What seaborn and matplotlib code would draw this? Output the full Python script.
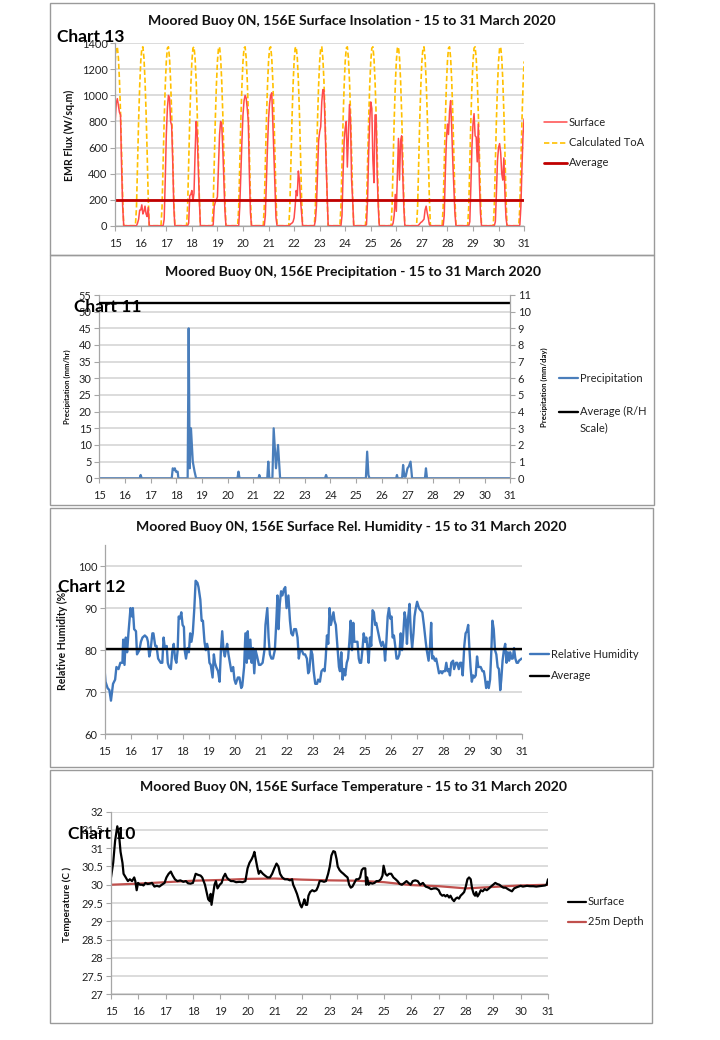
import numpy as np
import pandas as pd
import matplotlib
matplotlib.use("Agg")
import matplotlib.pyplot as plt
import seaborn as sns
from matplotlib.lines import Line2D
from matplotlib.patches import Rectangle
from matplotlib.ticker import FuncFormatter

# ---------------- DATA ----------------
days = list(range(15, 32))

# Hourly samples (hour 0 of 15 March to hour 0 of 31 March, UTC)
toa_flux = [
    1261,1363,1373,1288,1116,868,561,216,0,0,0,0,0,0,0,0,0,0,0,0,144,495,811,1072,  # 15
    1261,1363,1373,1288,1116,868,561,216,0,0,0,0,0,0,0,0,0,0,0,0,144,495,811,1072,  # 16
    1261,1363,1373,1288,1116,868,561,216,0,0,0,0,0,0,0,0,0,0,0,0,144,495,811,1072,  # 17
    1261,1363,1373,1288,1116,868,561,216,0,0,0,0,0,0,0,0,0,0,0,0,144,495,811,1072,  # 18
    1261,1363,1373,1288,1116,868,561,216,0,0,0,0,0,0,0,0,0,0,0,0,144,495,811,1072,  # 19
    1261,1363,1373,1288,1116,868,561,216,0,0,0,0,0,0,0,0,0,0,0,0,144,495,811,1072,  # 20
    1261,1363,1373,1288,1116,868,561,216,0,0,0,0,0,0,0,0,0,0,0,0,144,495,811,1072,  # 21
    1261,1363,1373,1288,1116,868,561,216,0,0,0,0,0,0,0,0,0,0,0,0,144,495,811,1072,  # 22
    1261,1363,1373,1288,1116,868,561,216,0,0,0,0,0,0,0,0,0,0,0,0,144,495,811,1072,  # 23
    1261,1363,1373,1288,1116,868,561,216,0,0,0,0,0,0,0,0,0,0,0,0,144,495,811,1072,  # 24
    1261,1363,1373,1288,1116,868,561,216,0,0,0,0,0,0,0,0,0,0,0,0,144,495,811,1072,  # 25
    1261,1363,1373,1288,1116,868,561,216,0,0,0,0,0,0,0,0,0,0,0,0,144,495,811,1072,  # 26
    1261,1363,1373,1288,1116,868,561,216,0,0,0,0,0,0,0,0,0,0,0,0,144,495,811,1072,  # 27
    1261,1363,1373,1288,1116,868,561,216,0,0,0,0,0,0,0,0,0,0,0,0,144,495,811,1072,  # 28
    1261,1363,1373,1288,1116,868,561,216,0,0,0,0,0,0,0,0,0,0,0,0,144,495,811,1072,  # 29
    1261,1363,1373,1288,1116,868,561,216,0,0,0,0,0,0,0,0,0,0,0,0,144,495,811,1072,  # 30
    1261,  # 31
]

surface_flux = [
    800,940,975,920,870,850,450,150,0,0,0,0,0,0,0,0,0,0,0,0,0,20,50,120,          # 15
    120,160,90,110,150,90,70,140,0,0,0,0,0,0,0,0,0,0,0,0,0,0,50,350,              # 16
    700,900,1000,980,800,770,500,150,0,0,0,0,0,0,0,0,0,0,0,0,0,20,230,240,        # 17
    270,190,250,550,800,700,450,200,0,0,0,0,0,0,0,0,0,0,0,0,5,150,180,200,        # 18
    220,450,700,800,780,600,350,120,0,0,0,0,0,0,0,0,0,0,0,0,0,150,400,650,        # 19
    850,960,1000,980,900,800,400,100,0,0,0,0,0,0,0,0,0,0,0,0,0,80,350,600,        # 20
    820,940,1000,1020,800,550,300,60,0,0,0,0,0,0,0,0,0,0,0,0,5,15,20,30,          # 21
    60,150,270,230,420,350,200,100,0,0,0,0,0,0,0,0,0,0,0,0,40,150,400,650,        # 22
    720,760,950,1045,1040,800,500,250,0,0,0,0,0,0,0,0,0,0,0,0,0,80,400,650,       # 23
    750,800,450,700,930,800,350,200,0,0,0,0,0,0,0,0,0,0,0,0,10,200,550,800,       # 24
    950,900,500,330,850,850,400,150,0,0,0,0,0,0,0,0,0,0,0,0,0,20,80,240,          # 25
    110,400,670,350,650,690,400,150,0,0,0,0,0,0,0,0,0,0,0,0,0,5,15,25,            # 26
    30,40,50,120,150,100,60,10,0,0,0,0,0,0,0,0,0,0,0,0,0,80,400,650,              # 27
    780,700,880,960,750,500,300,100,0,0,0,0,0,0,0,0,0,0,0,0,0,30,300,600,         # 28
    780,860,690,680,490,780,350,100,0,0,0,0,0,0,0,0,0,0,0,0,0,30,250,500,         # 29
    600,630,560,400,350,520,250,60,0,0,0,0,0,0,0,0,0,0,0,0,5,150,450,700,         # 30
    820,  # 31
]
insolation_average = 200

precip_time = [15.00, 16.57, 16.61, 16.65, 17.82, 17.86, 17.90, 17.94, 17.98, 18.02,
               18.05, 18.08, 18.44, 18.48, 18.52, 18.57, 18.64, 18.71, 18.77, 20.38,
               20.42, 20.46, 21.20, 21.23, 21.27, 21.54, 21.58, 21.62, 21.74, 21.79,
               21.88, 21.96, 22.04, 23.79, 23.83, 23.87, 25.38, 25.43, 25.48, 25.52,
               26.56, 26.59, 26.62, 26.79, 26.83, 26.88, 26.93, 27.00, 27.05, 27.12,
               27.18, 27.68, 27.72, 27.76, 31.00]
precip_value = [0, 0, 1, 0, 0, 3, 2.5, 3, 2, 2,
                2, 0, 0, 45, 3, 15, 5, 2, 0, 0,
                2, 0, 0, 1, 0, 0, 5, 0, 0, 15,
                3, 10, 0, 0, 1, 0, 0, 8, 1, 0,
                0, 1, 0, 0, 4, 0.5, 0.5, 3, 3.5, 5,
                0, 0, 3, 0, 0]
precip_average_daily = 10.5   # mm/day, right-hand scale

rh_time = [15.00, 15.03, 15.11, 15.18, 15.24, 15.32, 15.40, 15.45, 15.53, 15.60,
           15.68, 15.71, 15.76, 15.81, 15.86, 15.91, 15.99, 16.05, 16.08, 16.13,
           16.20, 16.24, 16.33, 16.39, 16.45, 16.54, 16.62, 16.66, 16.71, 16.76,
           16.83, 16.87, 16.94, 16.99, 17.05, 17.15, 17.21, 17.26, 17.31, 17.38,
           17.42, 17.47, 17.54, 17.59, 17.65, 17.70, 17.75, 17.80, 17.84, 17.89,
           17.94, 17.99, 18.04, 18.07, 18.12, 18.18, 18.23, 18.28, 18.33, 18.38,
           18.44, 18.49, 18.56, 18.60, 18.67, 18.72, 18.77, 18.83, 18.88, 18.93,
           18.98, 19.02, 19.07, 19.14, 19.19, 19.23, 19.28, 19.35, 19.41, 19.46,
           19.51, 19.56, 19.61, 19.65, 19.70, 19.75, 19.82, 19.86, 19.93, 19.98,
           20.03, 20.11, 20.17, 20.24, 20.28, 20.35, 20.40, 20.45, 20.49, 20.54,
           20.59, 20.64, 20.69, 20.74, 20.79, 20.85, 20.92, 20.98, 21.06, 21.13,
           21.17, 21.24, 21.29, 21.34, 21.40, 21.46, 21.53, 21.58, 21.63, 21.67,
           21.72, 21.77, 21.82, 21.88, 21.93, 21.98, 22.05, 22.11, 22.16, 22.22,
           22.27, 22.34, 22.40, 22.45, 22.50, 22.56, 22.63, 22.69, 22.76, 22.81,
           22.85, 22.92, 22.97, 23.02, 23.08, 23.15, 23.19, 23.26, 23.32, 23.39,
           23.44, 23.48, 23.53, 23.58, 23.63, 23.68, 23.73, 23.78, 23.82, 23.87,
           23.94, 23.99, 24.03, 24.08, 24.13, 24.18, 24.23, 24.29, 24.34, 24.39,
           24.44, 24.49, 24.54, 24.58, 24.63, 24.70, 24.75, 24.79, 24.84, 24.89,
           24.94, 24.99, 25.04, 25.08, 25.13, 25.18, 25.23, 25.28, 25.33, 25.38,
           25.42, 25.47, 25.52, 25.57, 25.62, 25.67, 25.72, 25.76, 25.81, 25.86,
           25.91, 25.96, 26.01, 26.05, 26.10, 26.15, 26.20, 26.25, 26.31, 26.36,
           26.41, 26.46, 26.51, 26.56, 26.60, 26.65, 26.70, 26.75, 26.80, 26.85,
           26.89, 26.94, 26.99, 27.06, 27.12, 27.19, 27.25, 27.32, 27.36, 27.43,
           27.48, 27.53, 27.57, 27.62, 27.67, 27.72, 27.77, 27.83, 27.90, 27.95,
           27.99, 28.06, 28.11, 28.16, 28.20, 28.25, 28.30, 28.37, 28.41, 28.48,
           28.53, 28.59, 28.64, 28.69, 28.74, 28.80, 28.85, 28.90, 28.95, 29.00,
           29.04, 29.09, 29.14, 29.19, 29.24, 29.29, 29.34, 29.38, 29.43, 29.50,
           29.55, 29.59, 29.64, 29.69, 29.74, 29.79, 29.84, 29.88, 29.93, 29.98,
           30.03, 30.08, 30.13, 30.18, 30.22, 30.27, 30.32, 30.37, 30.42, 30.47,
           30.52, 30.56, 30.61, 30.66, 30.71, 30.76, 30.81, 30.86, 30.90, 31.00]
rh_value = [75, 72.5, 71, 70.5, 68, 72, 73, 76, 75.5, 77,
            77, 82.5, 76.5, 83, 79.5, 84, 90, 88, 90, 85,
            84.5, 79, 80, 82, 83, 83.5, 83, 82, 78.5, 80,
            84, 84, 81, 81, 78, 77, 77, 83, 80.5, 81,
            77, 76, 75.5, 79.5, 81.5, 78, 77, 80, 88, 87.5,
            89, 86, 85.5, 80, 78, 80.5, 79.5, 84, 82, 84,
            90, 96.5, 96, 95, 92, 87, 87, 82, 80, 81.5,
            80, 77, 76.5, 73.5, 79, 77, 76, 75, 72.5, 80,
            84.5, 80, 78.5, 80, 81.5, 79, 76.5, 75, 76, 73,
            72, 73.5, 73.5, 71, 71.5, 76, 84, 77, 84.5, 78,
            82.5, 77, 80.5, 74.5, 80, 78.5, 76.5, 76.5, 77, 80,
            86, 90, 83, 79, 78, 78, 80, 86, 93, 85,
            91, 94, 93, 94.5, 95, 90, 93, 87, 84, 83.5,
            85, 85, 83, 78, 80, 80, 79, 79, 78, 74.5,
            75, 80, 79, 75, 72, 72, 73, 72.5, 75, 75.5,
            75, 78, 83.5, 81.5, 90, 86, 87.5, 89, 87, 86,
            80, 76, 75, 79.5, 73, 75.5, 74, 77, 78, 82,
            87, 80, 86.5, 82, 82, 82, 78, 77, 77, 80,
            84, 82, 83, 81, 77, 83, 81, 89.5, 89, 86,
            86.5, 85, 83.5, 82, 81, 82, 81, 77.5, 82, 88,
            90, 87.5, 88, 83, 83.5, 81, 78, 78, 79, 84,
            80, 84, 89, 87, 81.5, 88, 91, 84, 80.5, 84,
            88, 90, 91.5, 90, 89.5, 89, 86, 82, 80, 77.5,
            80.5, 86.5, 78, 78.5, 77.5, 78, 76.5, 74.5, 75, 74.5,
            75, 75, 77, 75, 75.5, 74, 77, 77.5, 75.5, 77,
            77, 75.5, 77, 77, 74, 81, 84, 84.5, 86, 80,
            76, 72.5, 74, 73.5, 74, 78.5, 76, 76, 76, 75,
            75, 73.5, 71, 72.5, 71, 73, 80, 87, 85, 80,
            79, 76, 75.5, 70.5, 73, 77.5, 80, 81.5, 77, 79.5,
            77.5, 79.5, 78, 78, 80.5, 78, 77, 77, 77.5, 78]
rh_average = 80.3

temp_time = [15.00, 15.08, 15.15, 15.23, 15.29, 15.35, 15.42, 15.46, 15.54, 15.62,
             15.69, 15.77, 15.85, 15.89, 15.94, 15.99, 16.06, 16.14, 16.19, 16.26,
             16.34, 16.42, 16.50, 16.59, 16.68, 16.77, 16.86, 16.96, 17.03, 17.11,
             17.19, 17.26, 17.34, 17.43, 17.54, 17.65, 17.74, 17.82, 17.91, 18.00,
             18.10, 18.19, 18.28, 18.34, 18.44, 18.50, 18.56, 18.62, 18.65, 18.68,
             18.73, 18.79, 18.84, 18.90, 18.98, 19.05, 19.11, 19.18, 19.24, 19.30,
             19.39, 19.48, 19.58, 19.70, 19.82, 19.92, 20.00, 20.07, 20.15, 20.21,
             20.25, 20.30, 20.35, 20.41, 20.47, 20.56, 20.64, 20.73, 20.82, 20.90,
             20.98, 21.06, 21.13, 21.19, 21.27, 21.36, 21.46, 21.55, 21.63, 21.67,
             21.73, 21.81, 21.87, 21.93, 21.98, 22.04, 22.08, 22.13, 22.18, 22.23,
             22.29, 22.37, 22.44, 22.52, 22.58, 22.64, 22.72, 22.80, 22.87, 22.95,
             23.01, 23.07, 23.14, 23.20, 23.26, 23.30, 23.37, 23.43, 23.51, 23.58,
             23.66, 23.72, 23.78, 23.84, 23.91, 23.98, 24.06, 24.12, 24.18, 24.24,
             24.31, 24.34, 24.38, 24.43, 24.49, 24.57, 24.65, 24.72, 24.80, 24.88,
             24.94, 24.98, 25.05, 25.11, 25.18, 25.26, 25.34, 25.42, 25.49, 25.57,
             25.65, 25.74, 25.82, 25.89, 25.97, 26.05, 26.14, 26.23, 26.32, 26.42,
             26.52, 26.63, 26.72, 26.82, 26.91, 27.00, 27.06, 27.13, 27.19, 27.25,
             27.31, 27.38, 27.43, 27.50, 27.56, 27.62, 27.68, 27.74, 27.80, 27.87,
             27.93, 27.99, 28.05, 28.11, 28.17, 28.22, 28.28, 28.33, 28.37, 28.42,
             28.48, 28.54, 28.61, 28.68, 28.76, 28.84, 28.91, 28.99, 29.07, 29.14,
             29.22, 29.30, 29.37, 29.45, 29.53, 29.60, 29.68, 29.76, 29.85, 29.92,
             30.00, 30.08, 30.15, 30.23, 30.34, 30.46, 30.57, 30.68, 30.80, 30.89,
             30.95, 31.00]
temp_value = [30.20, 30.60, 31.20, 31.60, 31.40, 30.90, 30.60, 30.30, 30.20, 30.10,
              30.15, 30.10, 30.20, 30.10, 29.85, 30.05, 30.00, 30.00, 29.98, 30.05,
              30.02, 30.03, 30.05, 29.95, 29.97, 29.95, 30.00, 30.05, 30.20, 30.30,
              30.36, 30.25, 30.15, 30.10, 30.12, 30.08, 30.10, 30.04, 30.03, 30.05,
              30.30, 30.27, 30.25, 30.20, 30.00, 29.80, 29.60, 29.55, 29.75, 29.45,
              29.70, 30.00, 30.10, 29.90, 30.00, 30.05, 30.20, 30.30, 30.20, 30.15,
              30.10, 30.10, 30.07, 30.08, 30.07, 30.10, 30.45, 30.60, 30.70, 30.80,
              30.90, 30.70, 30.50, 30.30, 30.38, 30.30, 30.25, 30.20, 30.20, 30.30,
              30.45, 30.58, 30.50, 30.30, 30.20, 30.15, 30.15, 30.12, 30.15, 30.00,
              29.90, 29.75, 29.60, 29.45, 29.38, 29.50, 29.60, 29.45, 29.45, 29.70,
              29.80, 29.85, 29.82, 29.85, 29.95, 30.10, 30.10, 30.08, 30.10, 30.30,
              30.50, 30.80, 30.92, 30.90, 30.70, 30.50, 30.40, 30.35, 30.30, 30.25,
              30.20, 30.00, 29.92, 29.95, 30.05, 30.15, 30.15, 30.20, 30.40, 30.45,
              30.45, 30.00, 30.20, 30.00, 30.05, 30.03, 30.05, 30.10, 30.10, 30.15,
              30.25, 30.52, 30.30, 30.25, 30.30, 30.30, 30.20, 30.15, 30.10, 30.02,
              30.00, 30.05, 30.10, 30.05, 30.00, 30.10, 30.12, 30.10, 30.00, 30.05,
              29.95, 29.92, 29.88, 29.90, 29.90, 29.85, 29.75, 29.70, 29.72, 29.68,
              29.72, 29.65, 29.70, 29.60, 29.55, 29.62, 29.65, 29.62, 29.70, 29.75,
              29.80, 29.95, 30.15, 30.20, 30.15, 29.90, 29.75, 29.70, 29.80, 29.68,
              29.75, 29.85, 29.82, 29.88, 29.85, 29.90, 29.95, 30.00, 30.05, 30.02,
              30.00, 29.95, 29.92, 29.92, 29.88, 29.85, 29.82, 29.90, 29.93, 29.95,
              29.97, 29.95, 29.96, 29.97, 29.96, 29.96, 29.95, 29.96, 29.97, 29.98,
              30.00, 30.15]

depth_time = [15.0, 16.0, 17.0, 18.0, 19.0, 20.0, 21.0, 22.0, 23.0, 24.0,
              25.0, 26.0, 27.0, 28.0, 29.0, 30.0, 31.0]
depth_value = [30.00, 30.03, 30.07, 30.11, 30.13, 30.16, 30.17, 30.14, 30.12, 30.11,
               30.07, 29.99, 29.96, 29.90, 29.94, 29.98, 30.00]

titles = ["Moored Buoy 0N, 156E Surface Insolation - 15 to 31 March 2020",
          "Moored Buoy 0N, 156E Precipitation - 15 to 31 March 2020",
          "Moored Buoy 0N, 156E Surface Rel. Humidity - 15 to 31 March 2020",
          "Moored Buoy 0N, 156E Surface Temperature - 15 to 31 March 2020"]
chart_tags = ["Chart 13", "Chart 11", "Chart 12", "Chart 10"]

# ---------------- STYLE / LAYOUT ----------------
sns.set_theme(style="white")
plt.rcParams['font.family'] = ['Lato', 'DejaVu Sans']

W, H = 720, 1040
fig = plt.figure(figsize=(W / 100, H / 100), dpi=100)
fig.patch.set_facecolor("white")

AXIS_C = "#A6A6A6"
GRID_C = "#D5D5D5"
TICK_TXT = "#222222"
TICK_FS = 7.9
LEG_FS = 8
TITLE_FS = 10.1


def fx(px):
    return px / W


def fy(py):
    return 1 - py / H


def add_ax(left, right, top, bottom):
    return fig.add_axes([fx(left), fy(bottom), (right - left) / W, (bottom - top) / H])


def style(ax, ylim, yticks, fmt=None):
    ax.set_xlim(15, 31)
    ax.set_xticks(days)
    ax.set_ylim(*ylim)
    ax.set_yticks(yticks)
    if fmt:
        ax.yaxis.set_major_formatter(FuncFormatter(fmt))
    ax.set_facecolor("white")
    for s in ["top", "right"]:
        ax.spines[s].set_visible(False)
    for s in ["left", "bottom"]:
        ax.spines[s].set_color(AXIS_C)
        ax.spines[s].set_linewidth(0.9)
    ax.grid(axis="y", color=GRID_C, lw=1.2)
    ax.grid(axis="x", visible=False)
    ax.set_axisbelow(True)
    ax.tick_params(axis="both", which="major", bottom=True, left=True, direction="out",
                   length=3.5, width=0.8, color=AXIS_C, labelsize=TICK_FS,
                   labelcolor=TICK_TXT, pad=2)
    ax.tick_params(axis="x", pad=5)
    ax.set_xlabel("")
    ax.set_ylabel("")


def frame(l, t, r, b):
    fig.add_artist(Rectangle((fx(l), fy(b)), (r - l) / W, (b - t) / H, transform=fig.transFigure,
                             fill=False, ec="#9A9A9A", lw=1.0))


def legend_entry(x0, x1, y, label, color, lw, ls="-"):
    fig.add_artist(Line2D([fx(x0), fx(x1)], [fy(y), fy(y)], transform=fig.transFigure,
                          color=color, lw=lw, ls=ls))
    fig.text(fx(x1 + 2), fy(y), label, fontsize=LEG_FS, va="center", ha="left", color="#222222")


def title(xc, y, text):
    fig.text(fx(xc), fy(y), text, fontsize=TITLE_FS, fontweight="bold", ha="center",
             va="center", color="#111111")


def ylabel(x, y, text, fs):
    fig.text(fx(x), fy(y), text, fontsize=fs, fontweight="bold", rotation=90,
             ha="center", va="center", color="#111111")


frame(50, 3, 654, 255)
frame(50, 255, 654, 505.5)
frame(50, 508, 653, 767)
frame(50, 770, 652, 1023)

hours = 15 + np.arange(len(surface_flux)) / 24.0

# ---- Panel 1: insolation ----
ax1 = add_ax(115.2, 524.1, 43.3, 225.7)
style(ax1, (0, 1400), range(0, 1401, 200))
df1 = pd.DataFrame({"t": hours, "surface": surface_flux, "toa": toa_flux})
sns.lineplot(data=df1, x="t", y="toa", ax=ax1, color="#FFC000", lw=1.2,
             linestyle=(0, (3.2, 1.6)), estimator=None, legend=False)
sns.lineplot(data=df1, x="t", y="surface", ax=ax1, color="#FF4A4A", lw=1.1,
             estimator=None, legend=False)
sns.lineplot(x=[15, 31], y=[insolation_average] * 2, ax=ax1, color="#C00000", lw=2.0,
             estimator=None, legend=False)
style(ax1, (0, 1400), range(0, 1401, 200))
title(352, 20.7, titles[0])
ylabel(69, 135, "EMR Flux (W/sq.m)", 7.6)
legend_entry(544, 567, 122, "Surface", "#FF4A4A", 1.1)
legend_entry(544, 567, 143, "Calculated ToA", "#FFC000", 1.2, ls=(0, (3.2, 1.6)))
legend_entry(544, 567, 163, "Average", "#C00000", 2.0)

# ---- Panel 2: precipitation ----
ax2 = add_ax(99.3, 510.2, 295, 478.3)
style(ax2, (0, 55), range(0, 56, 5))
df2 = pd.DataFrame({"t": precip_time, "p": precip_value})
sns.lineplot(data=df2, x="t", y="p", ax=ax2, color="#4A7EBB", lw=1.6, estimator=None,
             legend=False)
ax2r = ax2.twinx()
ax2r.set_ylim(0, 11)
ax2r.set_yticks(range(0, 12))
sns.lineplot(x=[15, 31], y=[precip_average_daily] * 2, ax=ax2r, color="#000000", lw=1.7,
             estimator=None, legend=False)
style(ax2, (0, 55), range(0, 56, 5))
ax2r.set_ylim(0, 11)
ax2r.set_yticks(range(0, 12))
ax2r.set_ylabel("")
for s in ["top", "left", "bottom"]:
    ax2r.spines[s].set_visible(False)
ax2r.spines["right"].set_color(AXIS_C)
ax2r.spines["right"].set_linewidth(0.9)
ax2r.grid(False)
ax2r.tick_params(axis="y", right=True, direction="out", length=3.5, width=0.8, color=AXIS_C,
                 labelsize=TICK_FS, labelcolor=TICK_TXT, pad=2)
title(352.7, 272.3, titles[1])
ylabel(67.7, 386.7, "Precipitation (mm/hr)", 5.6)
ylabel(544.7, 386.7, "Precipitation (mm/day)", 5.6)
legend_entry(558.6, 578, 378.3, "Precipitation", "#4A7EBB", 1.6)
legend_entry(558.6, 578, 411.7, "Average (R/H", "#000000", 1.7)
fig.text(fx(580), fy(427.3), "Scale)", fontsize=LEG_FS, va="center", ha="left", color="#222222")

# ---- Panel 3: relative humidity ----
ax3 = add_ax(104.7, 521.6, 545, 734.3)
style(ax3, (60, 105), range(60, 101, 10))
df3 = pd.DataFrame({"t": rh_time, "rh": rh_value})
sns.lineplot(data=df3, x="t", y="rh", ax=ax3, color="#3F77BC", lw=1.7, estimator=None,
             legend=False)
sns.lineplot(x=[15, 31], y=[rh_average] * 2, ax=ax3, color="#000000", lw=1.7,
             estimator=None, legend=False)
style(ax3, (60, 105), range(60, 101, 10))
title(351, 526.7, titles[2])
ylabel(62.6, 640, "Relative Humidity (%)", 7.6)
legend_entry(530, 549, 654.3, "Relative Humidity", "#3F77BC", 1.7)
legend_entry(530, 549, 675.7, "Average", "#000000", 1.7)

# ---- Panel 4: temperature ----
ax4 = add_ax(111, 548, 811.7, 994.3)
tfmt = lambda v, p: f"{v:g}"
style(ax4, (27, 32), np.arange(27, 32.01, 0.5), tfmt)
df4 = pd.DataFrame({"t": temp_time, "temp": temp_value})
df4b = pd.DataFrame({"t": depth_time, "temp": depth_value})
sns.lineplot(data=df4b, x="t", y="temp", ax=ax4, color="#C0504D", lw=1.6, estimator=None,
             legend=False)
sns.lineplot(data=df4, x="t", y="temp", ax=ax4, color="#000000", lw=1.6, estimator=None,
             legend=False)
style(ax4, (27, 32), np.arange(27, 32.01, 0.5), tfmt)
title(353, 787.3, titles[3])
ylabel(66.8, 904, "Temperature (C )", 7.2)
legend_entry(568, 585.6, 901.7, "Surface", "#000000", 1.6)
legend_entry(568, 585.6, 921.7, "25m Depth", "#C0504D", 1.6)

# ---- "Chart N" tags ----
tag_pos = [(57.5, 36.5), (74.5, 307), (58.5, 587.5), (67.5, 834)]
for (x, y), tag in zip(tag_pos, chart_tags):
    fig.text(fx(x), fy(y), tag, fontsize=12.5, fontweight="bold", ha="left", va="center",
             color="#000000")

fig.savefig("out.png", dpi=100, facecolor="white")
